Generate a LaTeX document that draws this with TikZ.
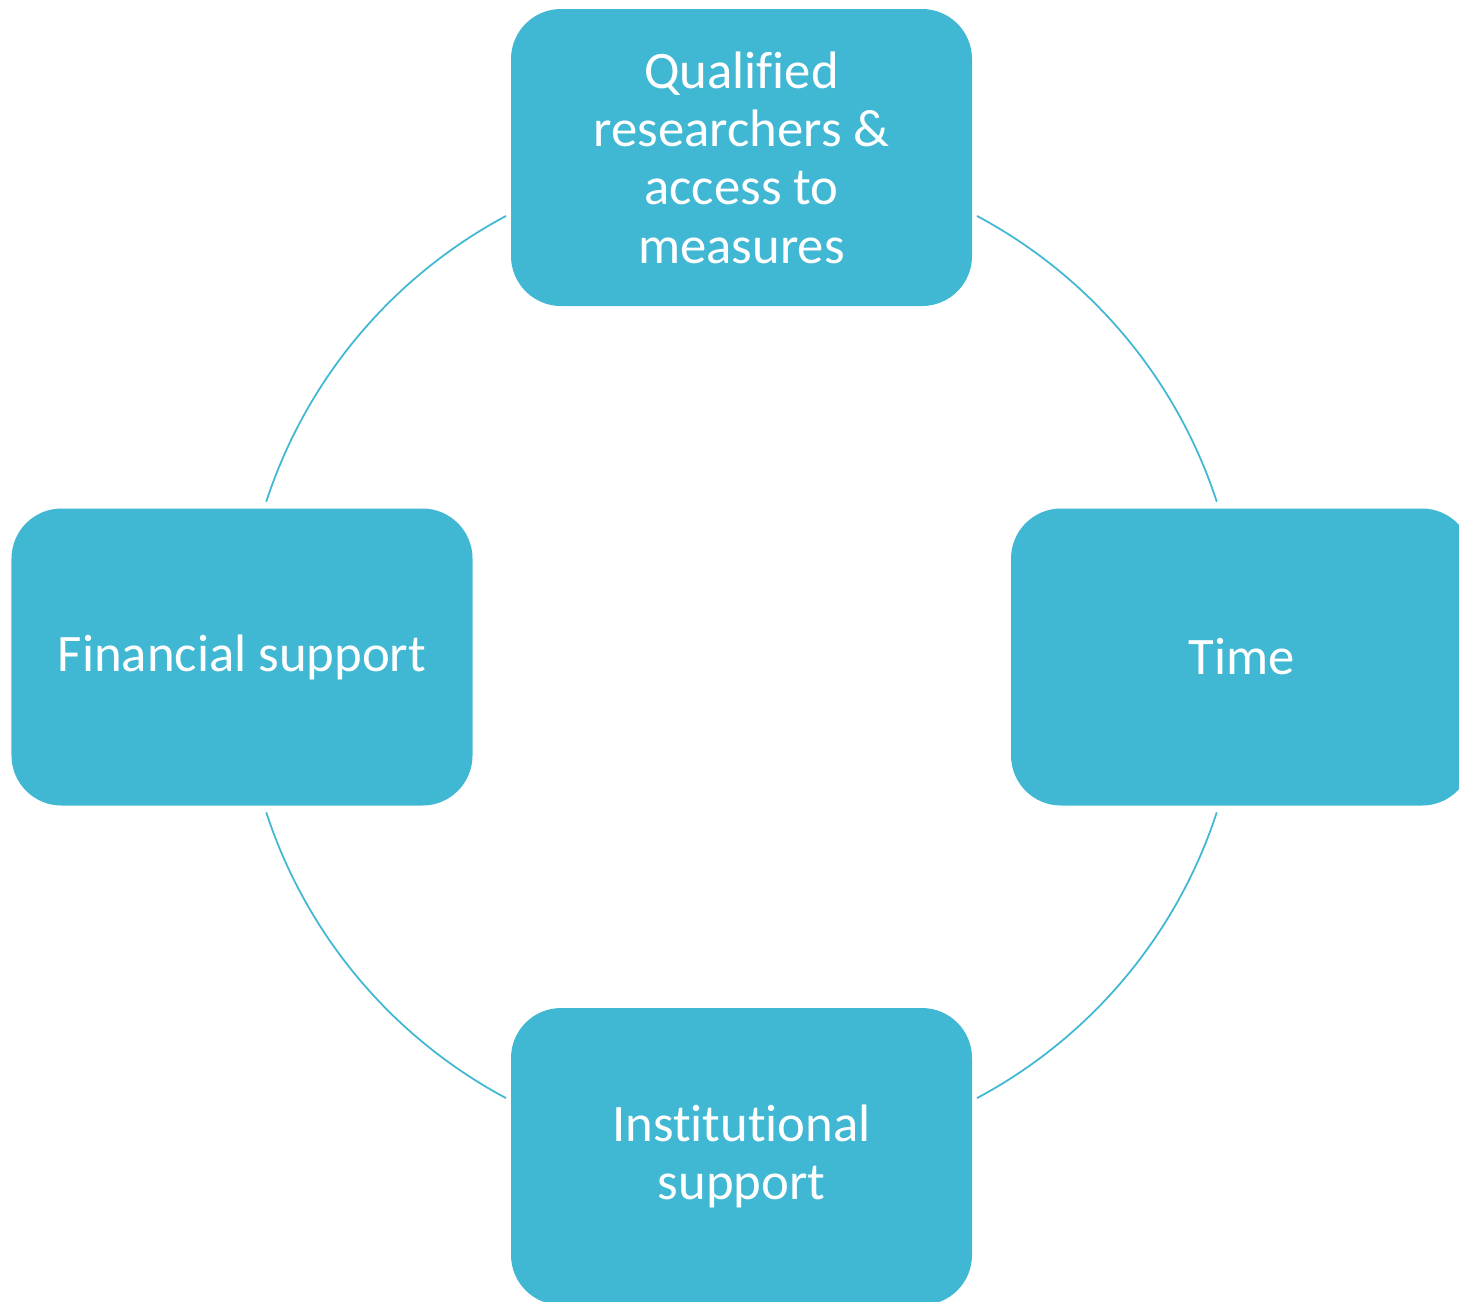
\documentclass[tikz,border=0pt]{standalone}
\usepackage{fontspec}
\setmainfont{Carlito}[Ligatures=NoCommon]
\usepackage{tikz}
\usetikzlibrary{calc}

\definecolor{boxcol}{HTML}{41B8D3}

\tikzset{
    resbox/.style={fill=boxcol, draw=none, rounded corners=0.5cm,
        minimum width=4.61cm, minimum height=2.97cm, text=white, align=center,
        font=\fontsize{15}{16.6}\selectfont, inner sep=0pt},
    ringarc/.style={draw=boxcol, line width=0.5pt}
}

\begin{document}
\begin{tikzpicture}
    \useasboundingbox (0,0) rectangle (14.59,-13.01);
    \clip (0,0) rectangle (14.59,-13.01);

    \coordinate (c) at (7.415,-6.57);
    \def\rad{5}

    % the ring behind the boxes
    \foreach \a/\b in {118.1/161.9,61.9/18.1,-18.1/-61.9,-118.1/-161.9}
        \draw[ringarc] ($(c)+(\a:\rad)$) arc[start angle=\a, end angle=\b, radius=\rad];

    \node[resbox] (qual) at (7.415,-1.575) {Qualified\\researchers \&\\access to\\measures};
    \node[resbox] (fin) at (2.42,-6.57) {Financial support};
    \node[resbox] (time) at (12.415,-6.57) {Time};
    \node[resbox] (inst) at (7.415,-11.565) {Institutional\\support};
\end{tikzpicture}
\end{document}
